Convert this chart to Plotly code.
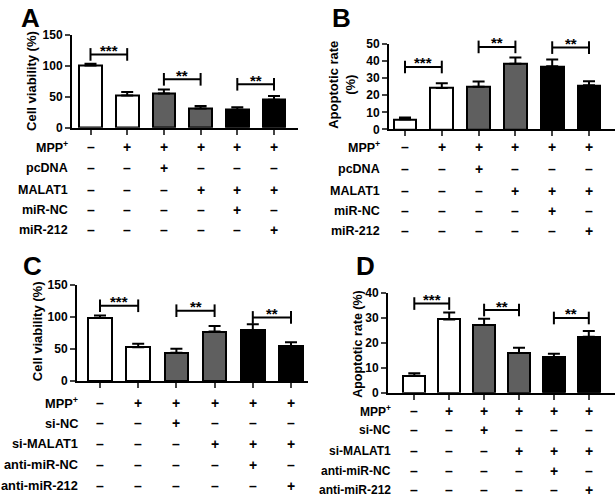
import plotly.graph_objects as go

W, H = 616, 503

# ---------------- data ----------------
colors = ["white", "white", "#5f5f5f", "#5f5f5f", "black", "black"]

A_mean = [100, 52, 55, 31, 29, 45]
A_err = [3, 5.5, 6.5, 4, 4, 6]
B_mean = [5.9, 24.2, 24.9, 38.3, 36.8, 25.7]
B_err = [1.1, 2.8, 3.0, 3.7, 4.0, 2.4]
C_mean = [98.5, 53, 44.5, 77.5, 80, 55]
C_err = [4, 5.5, 6.3, 8.5, 9, 6]
D_mean = [6.8, 29.4, 27.2, 15.9, 14.1, 22.5]
D_err = [1.0, 2.8, 2.5, 2.1, 1.5, 2.3]

AB_rows = ["MPP<sup>+</sup>", "pcDNA", "MALAT1", "miR-NC", "miR-212"]
CD_rows = ["MPP<sup>+</sup>", "si-NC", "si-MALAT1", "anti-miR-NC", "anti-miR-212"]
signs = [
    ["-", "+", "+", "+", "+", "+"],
    ["-", "-", "+", "-", "-", "-"],
    ["-", "-", "-", "+", "+", "+"],
    ["-", "-", "-", "-", "+", "-"],
    ["-", "-", "-", "-", "-", "+"],
]

# brackets: (bar i, bar j, y value, stars)
A_sig = [(0, 1, 118, "***"), (2, 3, 78, "**"), (4, 5, 70, "**")]
B_sig = [(0, 1, 36.4, "***"), (2, 3, 48.1, "**"), (4, 5, 47.7, "**")]
C_sig = [(0, 1, 117.7, "***"), (2, 3, 110, "**"), (4, 5, 99.5, "**")]
D_sig = [(0, 1, 35.8, "***"), (2, 3, 33.2, "**"), (4, 5, 30, "**")]

# ---------------- layout geometry (pixels) ----------------
panels = [
    dict(letter="A", mean=A_mean, err=A_err, sig=A_sig, rows=AB_rows,
         xpx=(72, 298), c0=90.5, step=36.7, ypx=(124.3, 28.3), ymax=150, dtick=50,
         title="Cell viability (%)", tx=32, ty=76, tsize=13,
         rowy=[143.7, 165.7, 188.3, 209, 229.7], labx=70, lsize=12.5, let=(30, 11)),
    dict(letter="B", mean=B_mean, err=B_err, sig=B_sig, rows=AB_rows,
         xpx=(389, 615), c0=405, step=36.8, ypx=(126, 37.7), ymax=50, dtick=10,
         title="Apoptotic rate<br>(%)", tx=342, ty=80, tsize=13,
         rowy=[144, 166.7, 189, 210, 230], labx=382, lsize=12.5, let=(341, 11)),
    dict(letter="C", mean=C_mean, err=C_err, sig=C_sig, rows=CD_rows,
         xpx=(77, 308), c0=100, step=38.2, ypx=(385, 286), ymax=150, dtick=50,
         title="Cell viability (%)", tx=37.5, ty=334, tsize=13,
         rowy=[407, 428, 449, 471, 492.5], labx=80, lsize=12.8, let=(32, 266)),
    dict(letter="D", mean=D_mean, err=D_err, sig=D_sig, rows=CD_rows,
         xpx=(388, 615), c0=414.3, step=34.9, ypx=(396.7, 294.3), ymax=40, dtick=10,
         title="Apoptotic rate (%)", tx=358.5, ty=346, tsize=12.5,
         rowy=[415.5, 435, 456.5, 477, 497], labx=393, lsize=12, let=(365, 266)),
]

FONT = "Liberation Sans, Arial, sans-serif"
fig = go.Figure()
shapes, annotations = [], []
layout = {}

for k, p in enumerate(panels):
    n = "" if k == 0 else str(k + 1)
    xa, ya = "x" + n, "y" + n
    r0 = -(p["c0"] - p["xpx"][0]) / p["step"]
    r1 = (p["xpx"][1] - p["c0"]) / p["step"]
    ybot, ytop = p["ypx"]

    fig.add_trace(go.Bar(
        x=list(range(6)), y=p["mean"], width=0.62,
        marker=dict(color=colors, line=dict(color="black", width=2)),
        error_y=dict(type="data", array=p["err"], arrayminus=[0] * 6,
                     symmetric=False, thickness=2, width=6, color="black"),
        xaxis=xa, yaxis=ya, showlegend=False, hoverinfo="skip"))

    layout["xaxis" + n] = dict(
        domain=[p["xpx"][0] / W, p["xpx"][1] / W], range=[r0, r1], anchor=ya,
        tickvals=list(range(6)), showticklabels=False, ticks="outside", ticklen=5,
        tickwidth=2, showline=True, linewidth=2, linecolor="black",
        showgrid=False, zeroline=False, fixedrange=True)
    layout["yaxis" + n] = dict(
        domain=[1 - ybot / H, 1 - ytop / H], range=[0, p["ymax"]], anchor=xa,
        dtick=p["dtick"], ticks="outside", ticklen=5, tickwidth=2,
        showline=True, linewidth=2, linecolor="black", showgrid=False,
        zeroline=False, tickfont=dict(family=FONT, size=12, color="black", weight="bold"),
        fixedrange=True)

    def yp(v, ybot=ybot, ytop=ytop, ymax=p["ymax"]):
        return 1 - (ybot - v / ymax * (ybot - ytop)) / H

    half = 6.5 / H
    for (i, j, v, stars) in p["sig"]:
        y0 = yp(v)
        line = dict(color="black", width=2)
        shapes.append(dict(type="line", xref=xa, yref="paper", x0=i, x1=j, y0=y0, y1=y0, line=line))
        for xx in (i, j):
            shapes.append(dict(type="line", xref=xa, yref="paper", x0=xx, x1=xx,
                               y0=y0 - half, y1=y0 + half, line=line))
        annotations.append(dict(xref=xa, yref="paper", x=(i + j) / 2, y=y0, text=stars,
                                showarrow=False, yanchor="middle", yshift=4,
                                font=dict(family=FONT, size=15, color="black", weight="bold")))

    # y title
    annotations.append(dict(xref="paper", yref="paper", x=p["tx"] / W, y=1 - p["ty"] / H,
                            text=p["title"], textangle=-90, showarrow=False,
                            xanchor="center", yanchor="middle",
                            font=dict(family=FONT, size=p["tsize"], color="black", weight="bold")))
    # panel letter
    annotations.append(dict(xref="paper", yref="paper", x=p["let"][0] / W, y=1 - p["let"][1] / H,
                            text=p["letter"], showarrow=False, xanchor="center", yanchor="middle",
                            font=dict(family=FONT, size=26, color="black", weight="bold")))
    # treatment table
    for r, (lab, ry) in enumerate(zip(p["rows"], p["rowy"])):
        annotations.append(dict(xref="paper", yref="paper", x=p["labx"] / W, y=1 - ry / H,
                                text=lab, showarrow=False, xanchor="right", yanchor="middle",
                                font=dict(family=FONT, size=p["lsize"], color="black", weight="bold")))
        for c in range(6):
            s = signs[r][c]
            annotations.append(dict(xref=xa, yref="paper", x=c, y=1 - ry / H,
                                    text="+" if s == "+" else "–", showarrow=False,
                                    xanchor="center", yanchor="middle",
                                    font=dict(family=FONT, size=14, color="black", weight="bold")))

fig.update_layout(
    width=W, height=H, margin=dict(l=0, r=0, t=0, b=0),
    paper_bgcolor="white", plot_bgcolor="white",
    shapes=shapes, annotations=annotations, bargap=0, **layout)

fig.write_html("out.html", config={"displayModeBar": False},
               post_script="document.body.style.margin='0';document.body.style.overflow='hidden';")
